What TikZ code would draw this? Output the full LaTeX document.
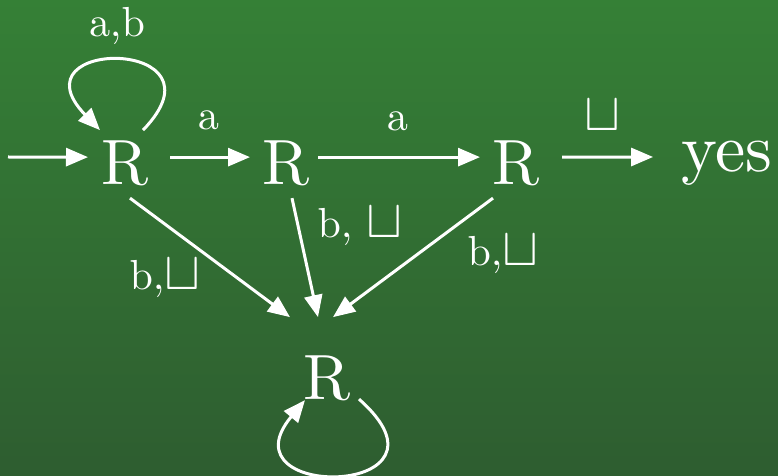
\documentclass[tikz,border=0pt]{standalone}
\usetikzlibrary{arrows.meta,calc}
\definecolor{bgtop}{RGB}{53,128,54}
\definecolor{bgbot}{RGB}{46,93,48}
\font\stfont=cmr10 at 32pt
\font\yesfont=cmr10 at 34pt
\font\lblfont=cmr10 at 21pt
\font\sqfont=cmsy10 at 27pt
\newcommand{\blanksym}{{\sqfont\char"74}}
\begin{document}
\begin{tikzpicture}[x=0.5pt,y=-0.5pt,>={Triangle[length=11pt,width=9pt]},
st/.style={text=white,font=\stfont,inner sep=0pt,anchor=base},
lbl/.style={text=white,font=\lblfont,inner sep=0pt,anchor=base},
edge/.style={draw=white,line width=1.5pt,->}]
\useasboundingbox (0,0) rectangle (778,476);
\shade[top color=bgtop,bottom color=bgbot] (0,0) rectangle (778,476);
\node[st] (r1) at (125,185) {R};
\node[st] (r2) at (286,185) {R};
\node[st] (r3) at (516,185) {R};
\node[st] (r4) at (327,400) {R};
\node[st,font=\yesfont] (yes) at (727,172) {yes};
\coordinate (init) at (8,157);
% top row
\draw[edge] (init) -- ($(r1)+(-37,-6)$);
\draw[edge] ($(r1)+(45,-6)$) -- ($(r2)+(-36,-6)$);
\draw[edge] ($(r2)+(32,-6)$) -- ($(r3)+(-36,-6)$);
\draw[edge] ($(r3)+(46,-6)$) -- ($(yes.west)+(-28,-7)$);
\draw[edge] ($(r1)+(18,-33)$) .. controls +(90,-93) and +(-90,-93) .. ($(r1)+(-25,-33)$);
% into the bottom state
\draw[edge] ($(r1)+(5,35)$) -- ($(r4)+(-37,-61)$);
\draw[edge] ($(r2)+(6,35)$) -- ($(r4)+(-9,-61)$);
\draw[edge] ($(r3)+(-23,35)$) -- ($(r4)+(6,-61)$);
\draw[edge] ($(r4)+(32,21)$) .. controls +(111,98) and +(-85,102) .. ($(r4)+(-22,22)$);
% labels
\node[lbl] (lab1) at (117,37) {a,b};
\node[lbl] (lab2) at (208,130) {a};
\node[lbl] (lab3) at (397,131) {a};
\node[lbl] (lab4) at (602,131) {\blanksym};
\node[lbl] (lab5) at (360,238) {b, \blanksym};
\node[lbl] (lab6) at (503,266) {b,\blanksym};
\node[lbl] (lab7) at (165,290) {b,\blanksym};
\end{tikzpicture}
\end{document}
